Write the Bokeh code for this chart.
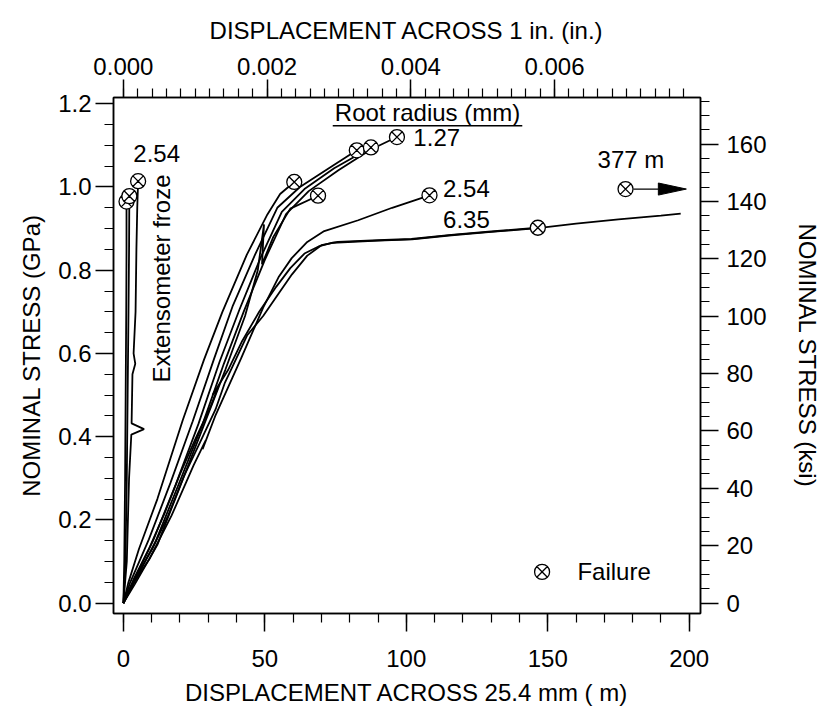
import math
from bokeh.plotting import figure
from bokeh.models import Range1d, LinearAxis, FixedTicker, PrintfTickFormatter
from bokeh.core.properties import value
from bokeh.embed import file_html
from bokeh.resources import INLINE

# ---------------- data (displacement in micrometres, stress in GPa) ----------------
# Root radius 1.27 mm specimens
r127_a_x = [0, 1.7, 5.5, 12, 21, 28.5, 35, 43.6, 50.9, 55.4, 60.4]
r127_a_y = [0, 0.048, 0.13, 0.25, 0.44, 0.585, 0.70, 0.837, 0.934, 0.983, 1.012]
r127_b_x = [0, 2.3, 9, 16.7, 24.5, 32.1, 38.7, 46.5, 54.4, 62.4, 72.9, 82.5]
r127_b_y = [0, 0.048, 0.153, 0.29, 0.437, 0.588, 0.715, 0.837, 0.95, 1.0, 1.046, 1.088]
r127_c_x = [0, 3, 10.5, 18.5, 26.5, 34, 41, 48.5, 56, 64, 74.5, 87.5]
r127_c_y = [0, 0.045, 0.15, 0.285, 0.43, 0.58, 0.705, 0.83, 0.94, 0.995, 1.045, 1.095]
r127_d_x = [0, 3.5, 11.5, 19.5, 28, 35.5, 42.5, 50, 57.5, 65.5, 76, 87.5, 96.7]
r127_d_y = [0, 0.045, 0.15, 0.285, 0.43, 0.575, 0.70, 0.825, 0.935, 0.99, 1.04, 1.09, 1.12]
r127_e_x = [0, 4, 12, 20, 28, 36, 43, 47.5, 49.7, 49, 53, 59, 68.8]
r127_e_y = [0, 0.045, 0.14, 0.28, 0.42, 0.56, 0.69, 0.80, 0.91, 0.814, 0.88, 0.948, 0.979]
# Root radius 2.54 mm specimen
r254_x = [0, 3.5, 9.2, 17, 24.8, 29, 28, 32.6, 41.6, 49.4, 55, 59.5, 65, 71, 83, 95, 108.2]
r254_y = [0, 0.048, 0.106, 0.21, 0.331, 0.39, 0.37, 0.452, 0.588, 0.71, 0.785, 0.829, 0.868, 0.894, 0.92, 0.95, 0.98]
# Root radius 6.35 mm specimens
r635_a_x = [0, 4.6, 10.2, 15.8, 21.4, 27, 32.6, 35.9, 43.7, 49.4, 55, 59.6, 65, 70, 75.8, 90, 101.8, 115.9, 130, 146.5]
r635_a_y = [0, 0.065, 0.13, 0.21, 0.305, 0.385, 0.466, 0.53, 0.643, 0.69, 0.745, 0.79, 0.835, 0.86, 0.868, 0.872, 0.875, 0.885, 0.893, 0.902]
r635_b_x = [0, 3.8, 9, 14.5, 20, 25.5, 31, 33.5, 31.5, 37, 42, 48, 54, 59, 64, 69, 74, 90, 102, 116, 130, 146.5, 160, 175, 190, 197]
r635_b_y = [0, 0.06, 0.13, 0.215, 0.31, 0.395, 0.475, 0.52, 0.50, 0.56, 0.63, 0.70, 0.76, 0.805, 0.84, 0.857, 0.866, 0.871, 0.874, 0.884, 0.892, 0.901, 0.912, 0.922, 0.931, 0.936]
# Root radius 2.54 mm, extensometer froze
ext_a_x = [0, 0.3, 0.6, 0.8, 1.0, 1.1, 1.1]
ext_a_y = [0, 0.1, 0.3, 0.5, 0.7, 0.85, 0.965]
ext_b_x = [0, 0.7, 1.2, 1.5, 1.8, 2.0, 2.1]
ext_b_y = [0, 0.1, 0.3, 0.5, 0.7, 0.85, 0.978]
ext_c_x = [0, 1.2, 2.0, 2.8, 7.3, 2.9, 3.2, 4.2, 3.6, 4.3, 4.6, 4.9, 5.2]
ext_c_y = [0, 0.1, 0.3, 0.405, 0.418, 0.432, 0.55, 0.575, 0.6, 0.7, 0.85, 0.95, 1.014]

failed_curves = [(r127_a_x, r127_a_y), (r127_b_x, r127_b_y), (r127_c_x, r127_c_y),
                 (r127_d_x, r127_d_y), (r127_e_x, r127_e_y), (r254_x, r254_y),
                 (r635_a_x, r635_a_y), (ext_a_x, ext_a_y), (ext_b_x, ext_b_y), (ext_c_x, ext_c_y)]
all_curves = failed_curves + [(r635_b_x, r635_b_y)]

# failure beyond the plotted range (377 um)
off_fail_x = [177.5]
off_fail_y = [0.995]
arrow_end_x = 199.0

# legend key position (data units)
legend_x = [148.0]
legend_y = [0.075]

# axis ticks
x_ticks = [0, 50, 100, 150, 200]
x_minor = list(range(0, 201, 10))
y_ticks = [0.0, 0.2, 0.4, 0.6, 0.8, 1.0, 1.2]
y_minor = [round(0.05 * i, 2) for i in range(25)]
in_ticks = [0.000, 0.002, 0.004, 0.006]
in_minor = [round(0.0002 * i, 4) for i in range(40)]
ksi_ticks = [0, 20, 40, 60, 80, 100, 120, 140, 160]
ksi_minor = list(range(0, 176, 5))

UM_PER_IN = 25400.0
KSI_PER_GPA = 145.038

X0, X1 = -3.5, 204.0
Y0, Y1 = -0.025, 1.215

FONT = "Liberation Sans"
FS = "24px"

p = figure(width=825, height=719, output_backend="svg", toolbar_location=None,
           x_range=Range1d(X0, X1), y_range=Range1d(Y0, Y1),
           min_border_left=113, min_border_right=125, min_border_top=97, min_border_bottom=106)
p.background_fill_color = "white"
p.border_fill_color = "white"
p.outline_line_color = "black"
p.outline_line_width = 1.5
p.xgrid.visible = False
p.ygrid.visible = False

bottom = p.below[0]
left = p.left[0]

p.extra_x_ranges = {"inch": Range1d(X0 / UM_PER_IN, X1 / UM_PER_IN)}
p.extra_y_ranges = {"ksi": Range1d(Y0 * KSI_PER_GPA, Y1 * KSI_PER_GPA)}

top = LinearAxis(x_range_name="inch")
right = LinearAxis(y_range_name="ksi")
p.add_layout(top, "above")
p.add_layout(right, "right")


def style(ax):
    ax.axis_line_width = 1.5
    ax.axis_line_color = "black"
    ax.major_tick_line_width = 1.5
    ax.minor_tick_line_width = 1.2
    ax.major_tick_out = 18
    ax.major_tick_in = 0
    ax.minor_tick_out = 9
    ax.minor_tick_in = 0
    ax.major_label_text_font = FONT
    ax.major_label_text_font_size = FS
    ax.major_label_text_color = "black"
    ax.axis_label_text_font = FONT
    ax.axis_label_text_font_size = FS
    ax.axis_label_text_font_style = "normal"
    ax.axis_label_text_color = "black"


for ax in (bottom, left, top, right):
    style(ax)

bottom.ticker = FixedTicker(ticks=x_ticks, minor_ticks=x_minor)
bottom.formatter = PrintfTickFormatter(format="%d")
bottom.axis_label = "DISPLACEMENT ACROSS 25.4 mm ( m)"
bottom.major_label_standoff = 18
bottom.axis_label_standoff = 9

left.ticker = FixedTicker(ticks=y_ticks, minor_ticks=y_minor)
left.formatter = PrintfTickFormatter(format="%.1f")
left.axis_label = "NOMINAL STRESS (GPa)"
left.major_label_standoff = 4
left.axis_label_standoff = 10

top.ticker = FixedTicker(ticks=in_ticks, minor_ticks=in_minor)
top.formatter = PrintfTickFormatter(format="%.3f")
top.axis_label = "DISPLACEMENT ACROSS 1 in. (in.)"
top.major_label_standoff = 5
top.axis_label_standoff = 11

right.ticker = FixedTicker(ticks=ksi_ticks, minor_ticks=ksi_minor)
right.formatter = PrintfTickFormatter(format="%d")
right.axis_label = "NOMINAL STRESS (ksi)"
right.major_label_standoff = 8
right.axis_label_standoff = 24

# curves
for cx, cy in all_curves:
    p.line(cx, cy, line_color="black", line_width=1.8)

# failure markers at the end of each failed curve
fail_x = [c[0][-1] for c in failed_curves] + off_fail_x
fail_y = [c[1][-1] for c in failed_curves] + off_fail_y
p.scatter(fail_x, fail_y, marker="circle_x", size=15, line_color="black",
          line_width=1.3, fill_color="white")

# arrow for the 377 um failure
head_len = 9.9
head_half = 0.0145
p.line([off_fail_x[0] + 2.8, arrow_end_x - head_len], [off_fail_y[0], off_fail_y[0]],
       line_color="black", line_width=1.2)
p.patch([arrow_end_x - head_len, arrow_end_x, arrow_end_x - head_len],
        [off_fail_y[0] + head_half, off_fail_y[0], off_fail_y[0] - head_half],
        fill_color="black", line_color="black")

# legend key
p.scatter(legend_x, legend_y, marker="circle_x", size=15, line_color="black",
          line_width=1.3, fill_color="white")


def label(x, y, t, align="left", angle=0.0):
    p.text([x], [y], text=[t], text_font=value(FONT), text_font_size=value(FS),
           text_color="black", text_align=align, text_baseline="middle", angle=angle)


label(legend_x[0] + 12.5, legend_y[0], "Failure")
label(107.5, 1.178, "Root radius (mm)", align="center")
p.line([74, 141], [1.147, 1.147], line_color="black", line_width=1.5)
label(102.5, 1.118, "1.27")
label(113, 0.996, "2.54")
label(113, 0.921, "6.35")
label(167.6, 1.065, "377  m")
label(3.5, 1.08, "2.54")
label(13.5, 0.78, "Extensometer froze", align="center", angle=math.pi / 2)

open("out.html", "w").write(file_html(p, INLINE))
